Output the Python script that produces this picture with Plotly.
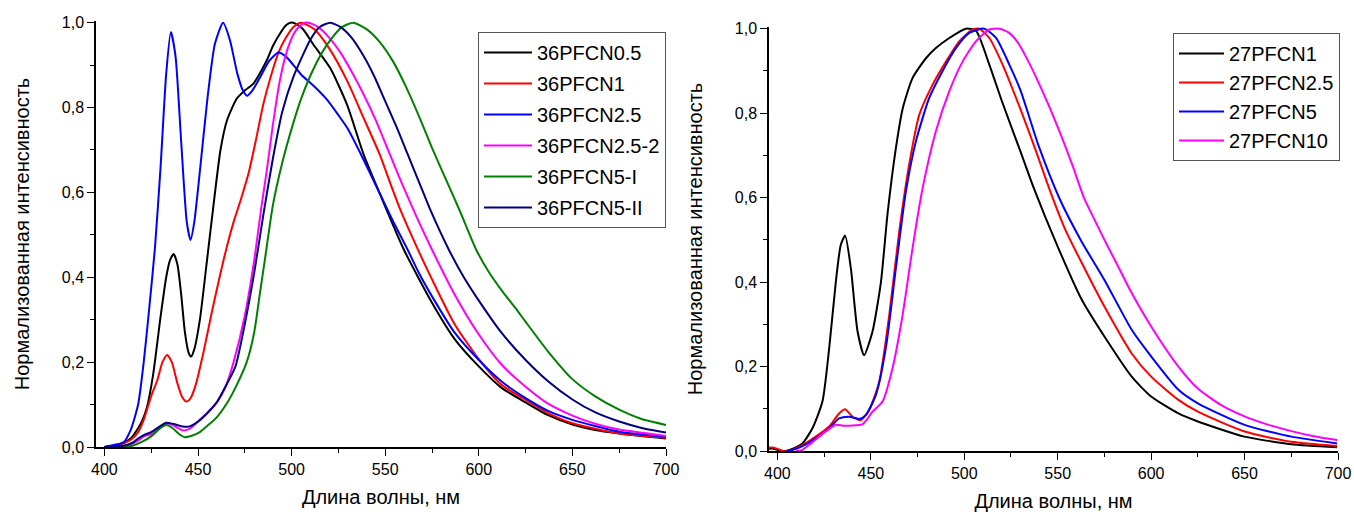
import plotly.graph_objects as go

# ---------------- Left panel data (36PFCN series) ----------------
wl_36_05 = [400, 405, 410, 414, 417.4, 420, 422.8, 426, 430, 433, 435, 437, 439, 441, 443, 445, 446.3, 448, 451, 454.8, 458, 462, 465.5, 470.8, 475, 479.7, 483, 486.8, 490, 493.9, 497, 499.3, 502, 506, 511.7, 520.6, 529.6, 538.5, 547.4, 560, 575, 587, 600, 612, 625, 637, 650, 662, 675, 700]
v_36_05 = [0.0, 0.003, 0.01, 0.02, 0.04, 0.06, 0.095, 0.17, 0.307, 0.40, 0.44, 0.455, 0.43, 0.36, 0.27, 0.222, 0.213, 0.23, 0.30, 0.44, 0.56, 0.70, 0.77, 0.822, 0.84, 0.857, 0.88, 0.912, 0.945, 0.975, 0.994, 1.0, 0.998, 0.985, 0.948, 0.893, 0.807, 0.689, 0.594, 0.465, 0.34, 0.255, 0.19, 0.14, 0.105, 0.075, 0.053, 0.04, 0.032, 0.02]

wl_36_1 = [400, 405, 410, 415, 418, 421, 425, 428.3, 431, 433.5, 436, 439, 441.5, 443.8, 446, 449, 453, 457, 461, 465, 469, 473, 477, 481, 485, 489, 493, 497, 501, 505, 512, 520, 530, 538, 547, 552, 558, 567, 575, 587, 600, 612, 625, 637, 650, 675, 700]
v_36_1 = [0.0, 0.003, 0.008, 0.02, 0.035, 0.064, 0.12, 0.158, 0.2, 0.217, 0.2, 0.15, 0.118, 0.107, 0.115, 0.15, 0.225, 0.31, 0.39, 0.465, 0.53, 0.585, 0.645, 0.725, 0.81, 0.875, 0.93, 0.965, 0.99, 1.0, 0.985, 0.94, 0.86, 0.78, 0.69, 0.63, 0.56, 0.47, 0.395, 0.29, 0.207, 0.147, 0.111, 0.08, 0.056, 0.032, 0.022]

wl_36_25 = [400, 405, 410, 414, 418, 421, 424, 427, 430, 433, 435.5, 438, 441, 444, 446, 448, 451, 455, 459, 463.4, 467, 471, 474, 476.2, 479, 483, 488, 493, 497, 501, 505, 512, 519, 525, 530, 537, 543, 549, 555, 562, 568, 575, 587, 600, 612, 625, 637, 650, 675, 700]
v_36_25 = [0.0, 0.005, 0.01, 0.04, 0.1, 0.2, 0.33, 0.47, 0.66, 0.88, 0.978, 0.92, 0.72, 0.53, 0.488, 0.53, 0.65, 0.82, 0.95, 1.0, 0.96, 0.88, 0.84, 0.828, 0.84, 0.87, 0.91, 0.93, 0.92, 0.9, 0.878, 0.85, 0.818, 0.782, 0.75, 0.69, 0.635, 0.58, 0.525, 0.465, 0.41, 0.355, 0.27, 0.205, 0.155, 0.115, 0.085, 0.064, 0.036, 0.024]

wl_36_25_2 = [400, 410, 415, 418, 421, 425, 429, 433, 436, 439, 442, 445, 448, 451, 455, 460, 465, 469, 475, 480, 484, 487, 490, 494, 498, 502, 506, 509, 514, 520, 526, 532, 538, 545, 552, 559, 567, 575, 587, 600, 612, 625, 637, 650, 662, 675, 700]
v_36_25_2 = [0.0, 0.002, 0.008, 0.015, 0.025, 0.03, 0.043, 0.055, 0.053, 0.045, 0.039, 0.042, 0.052, 0.065, 0.08, 0.105, 0.145, 0.2, 0.31, 0.44, 0.57, 0.66, 0.76, 0.87, 0.94, 0.98, 0.998, 1.0, 0.99, 0.965, 0.93, 0.885, 0.835, 0.77, 0.695, 0.62, 0.54, 0.465, 0.36, 0.265, 0.195, 0.142, 0.102, 0.074, 0.055, 0.041, 0.026]

wl_36_5I = [400, 412, 415, 420, 425, 430, 433, 436, 440, 443, 447, 451, 455, 460, 465, 470, 476, 480, 483, 486, 490, 495, 501, 505, 510, 515, 520, 527, 533, 540, 547, 554, 561, 568, 575, 582, 590, 598.6, 605, 612.9, 620, 625, 637, 650, 662, 675, 687, 700]
v_36_5I = [0.0, 0.001, 0.003, 0.012, 0.025, 0.045, 0.052, 0.046, 0.03, 0.023, 0.027, 0.035, 0.05, 0.07, 0.1, 0.14, 0.2, 0.27, 0.36, 0.45, 0.57, 0.67, 0.765, 0.82, 0.875, 0.92, 0.955, 0.99, 1.0, 0.985, 0.955, 0.91, 0.85, 0.78, 0.705, 0.635, 0.555, 0.465, 0.415, 0.365, 0.325, 0.295, 0.225, 0.16, 0.12, 0.088, 0.066, 0.052]

wl_36_5II = [400, 410, 415, 418, 421, 425, 429, 433, 437, 441, 445, 448, 451, 455, 460, 465, 470, 475, 480, 485, 490, 495, 501, 510, 515, 520.7, 526, 532, 538, 544, 550, 556, 562, 568, 574, 584, 592, 600, 612, 625, 637, 650, 662, 675, 687, 700]
v_36_5II = [0.0, 0.003, 0.01, 0.02, 0.028, 0.035, 0.047, 0.057, 0.054, 0.049, 0.048, 0.054, 0.063, 0.08, 0.105, 0.145, 0.19, 0.29, 0.41, 0.55, 0.68, 0.79, 0.873, 0.96, 0.99, 1.0, 0.99, 0.965, 0.925, 0.875, 0.815, 0.755, 0.69, 0.625, 0.56, 0.465, 0.4, 0.345, 0.27, 0.205, 0.155, 0.112, 0.082, 0.06, 0.045, 0.034]

# ---------------- Right panel data (27PFCN series) ----------------
wl_27_1 = [395, 397, 399, 402, 404.5, 408, 413.4, 418.75, 424.1, 427.7, 431.25, 433.9, 436.25, 439.3, 442.9, 446.4, 450.9, 455.4, 458.9, 463.4, 467, 472.3, 479.5, 484.8, 492, 500.9, 506.25, 513.4, 520, 530, 537, 550, 562.9, 575, 589.6, 600, 614.6, 625, 650, 675, 699.5]
v_27_1 = [0.005, 0.006, 0.004, 0.0, 0.0, 0.005, 0.018, 0.054, 0.117, 0.243, 0.40, 0.488, 0.51, 0.433, 0.283, 0.227, 0.283, 0.40, 0.56, 0.717, 0.81, 0.883, 0.93, 0.954, 0.978, 1.0, 0.995, 0.915, 0.83, 0.71, 0.625, 0.484, 0.358, 0.271, 0.176, 0.129, 0.089, 0.07, 0.034, 0.016, 0.009]

wl_27_25 = [395, 398, 400, 403, 406, 413.4, 420.5, 427.7, 433, 436.25, 440.2, 444.6, 449.1, 454.5, 459.8, 465.2, 470.5, 475.9, 483, 490.2, 497.3, 504.5, 508, 513.4, 520.5, 530, 538, 546, 554, 562.9, 575, 589.6, 600, 614.6, 625, 650, 675, 699.5]
v_27_25 = [0.008, 0.008, 0.005, 0.0, 0.0, 0.014, 0.034, 0.058, 0.089, 0.099, 0.081, 0.073, 0.097, 0.164, 0.32, 0.52, 0.678, 0.796, 0.867, 0.922, 0.97, 0.998, 1.0, 0.978, 0.915, 0.81, 0.715, 0.615, 0.525, 0.445, 0.342, 0.231, 0.176, 0.121, 0.093, 0.046, 0.022, 0.012]

wl_27_5 = [405, 410, 415, 420.5, 427.7, 433, 438.4, 443.75, 447.3, 452.7, 458, 463.4, 468.75, 474.1, 481.25, 488.4, 495.5, 502.7, 510.7, 517, 524.1, 530, 540, 551.25, 562.9, 575, 589.6, 600, 614.6, 625, 650, 675, 699.5]
v_27_5 = [0.0, 0.005, 0.015, 0.03, 0.054, 0.077, 0.081, 0.076, 0.085, 0.133, 0.243, 0.433, 0.614, 0.733, 0.836, 0.9, 0.954, 0.99, 1.0, 0.978, 0.915, 0.855, 0.72, 0.595, 0.495, 0.405, 0.287, 0.224, 0.145, 0.113, 0.062, 0.034, 0.018]

wl_27_10 = [410, 413, 417, 422.3, 427, 431.25, 435, 438.4, 442, 445.5, 448, 450.9, 456.25, 461.6, 467, 472.3, 477.7, 484.8, 492, 499.1, 506.25, 513.4, 518.75, 524, 529, 534, 540, 546, 552, 558, 564, 570, 575, 582, 589.6, 600, 614.6, 625, 637, 650, 662, 675, 687, 699.5]
v_27_10 = [0.0, 0.002, 0.015, 0.034, 0.05, 0.062, 0.06, 0.06, 0.061, 0.063, 0.075, 0.093, 0.117, 0.196, 0.322, 0.48, 0.622, 0.757, 0.852, 0.922, 0.97, 0.998, 1.0, 0.99, 0.965, 0.925, 0.87, 0.81, 0.745, 0.675, 0.6, 0.545, 0.5, 0.44, 0.374, 0.295, 0.2, 0.148, 0.11, 0.082, 0.063, 0.047, 0.035, 0.026]

left_series = [
    ("36PFCN0.5", wl_36_05, v_36_05, "#000000"),
    ("36PFCN1", wl_36_1, v_36_1, "#ff0000"),
    ("36PFCN2.5", wl_36_25, v_36_25, "#0000ff"),
    ("36PFCN2.5-2", wl_36_25_2, v_36_25_2, "#ff00ff"),
    ("36PFCN5-I", wl_36_5I, v_36_5I, "#008000"),
    ("36PFCN5-II", wl_36_5II, v_36_5II, "#000080"),
]
right_series = [
    ("27PFCN1", wl_27_1, v_27_1, "#000000"),
    ("27PFCN2.5", wl_27_25, v_27_25, "#ff0000"),
    ("27PFCN5", wl_27_5, v_27_5, "#0000ff"),
    ("27PFCN10", wl_27_10, v_27_10, "#ff00ff"),
]

fig = go.Figure()
for name, x, y, c in left_series:
    fig.add_trace(go.Scatter(x=x, y=y, name=name, mode="lines",
                             line=dict(color=c, width=2, shape="spline", smoothing=0.6),
                             xaxis="x", yaxis="y", legend="legend", legendgroup=name))
for name, x, y, c in right_series:
    fig.add_trace(go.Scatter(x=x, y=y, name=name, mode="lines",
                             line=dict(color=c, width=2, shape="spline", smoothing=0.6),
                             xaxis="x2", yaxis="y2", legend="legend2", legendgroup=name))

W, H = 1354, 514
FONT = "Liberation Sans, Arial, sans-serif"
YTITLE = "Нормализованная интенсивность"
XTITLE = "Длина волны, нм"

def xaxis(domain, anchor):
    return dict(domain=domain, anchor=anchor, range=[395.5, 700], tick0=400, dtick=50,
                automargin=False,
                showline=True, linecolor="#000", linewidth=1.5, ticks="outside", ticklen=7,
                tickwidth=1.2, tickcolor="#000", showgrid=False, zeroline=False,
                tickfont=dict(family=FONT, size=16, color="#000"),
                minor=dict(dtick=25, ticks="outside", ticklen=4, tickwidth=1.2, tickcolor="#000", showgrid=False),
                title=dict(text=XTITLE, font=dict(family=FONT, size=20, color="#000"), standoff=13))

def yaxis(domain, anchor, standoff):
    return dict(domain=domain, anchor=anchor, range=[0, 1.004], tick0=0, dtick=0.2, tickformat=".1f",
                automargin=False,
                showline=True, linecolor="#000", linewidth=1.5, ticks="outside", ticklen=7,
                tickwidth=1.2, tickcolor="#000", showgrid=False, zeroline=False,
                tickfont=dict(family=FONT, size=16, color="#000"),
                minor=dict(dtick=0.1, ticks="outside", ticklen=4, tickwidth=1.2, tickcolor="#000", showgrid=False),
                title=dict(text=YTITLE, font=dict(family=FONT, size=20, color="#000"), standoff=standoff))

fig.update_layout(
    width=W, height=H, margin=dict(l=0, r=0, t=0, b=0),
    paper_bgcolor="white", plot_bgcolor="white",
    separators=", ",
    font=dict(family=FONT, color="#000"),
    xaxis=xaxis([96 / W, 666 / W], "y"),
    yaxis=yaxis([(H - 447) / H, (H - 21) / H], "x", 27),
    xaxis2=xaxis([769 / W, 1338 / W], "y2"),
    yaxis2=yaxis([(H - 451) / H, (H - 27) / H], "x2", 27),
    legend=dict(x=478 / W, y=1 - 32 / H, xanchor="left", yanchor="top",
                bordercolor="#555", borderwidth=1, bgcolor="white",
                font=dict(family=FONT, size=20, color="#000"),
                itemwidth=48, traceorder="grouped", tracegroupgap=2),
    legend2=dict(x=1173 / W, y=1 - 33 / H, xanchor="left", yanchor="top",
                 bordercolor="#555", borderwidth=1, bgcolor="white",
                 font=dict(family=FONT, size=20, color="#000"),
                 itemwidth=45, traceorder="grouped", tracegroupgap=0),
    showlegend=True,
)

fig.write_html("out.html", config={"displayModeBar": False},
               post_script="document.body.style.margin='0px';document.body.style.overflow='hidden';")
